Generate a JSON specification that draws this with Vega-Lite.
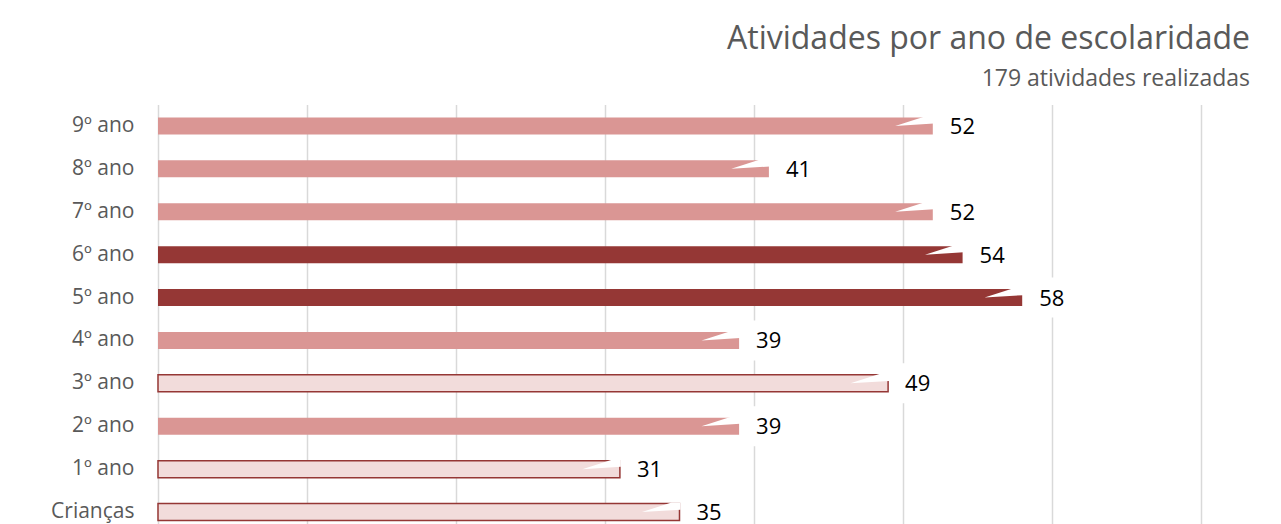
{
  "$schema": "https://vega.github.io/schema/vega-lite/v6.json",
  "autosize": {"type": "none"},
  "width": 1043,
  "height": 419.5,
  "padding": {"left": 158, "top": 104.5, "right": 80, "bottom": 0},
  "background": "white",
  "title": {
    "text": "Atividades por ano de escolaridade",
    "subtitle": "179 atividades realizadas",
    "anchor": "end",
    "frame": "group",
    "dx": 49,
    "offset": 13,
    "subtitlePadding": 12,
    "font": "Open Sans",
    "subtitleFont": "Open Sans",
    "fontSize": 32,
    "subtitleFontSize": 23,
    "fontWeight": "normal",
    "color": "#595959",
    "subtitleColor": "#595959"
  },
  "data": {
    "values": [
      {"ano": "9º ano", "atividades": 52},
      {"ano": "8º ano", "atividades": 41},
      {"ano": "7º ano", "atividades": 52},
      {"ano": "6º ano", "atividades": 54},
      {"ano": "5º ano", "atividades": 58},
      {"ano": "4º ano", "atividades": 39},
      {"ano": "3º ano", "atividades": 49},
      {"ano": "2º ano", "atividades": 39},
      {"ano": "1º ano", "atividades": 31},
      {"ano": "Crianças", "atividades": 35}
    ]
  },
  "encoding": {
    "y": {
      "field": "ano",
      "type": "nominal",
      "sort": null,
      "scale": {"range": [0, 429], "paddingInner": 0, "paddingOuter": 0},
      "axis": {
        "title": null,
        "domain": false,
        "ticks": false,
        "grid": false,
        "labelFont": "Open Sans",
        "labelFontSize": 21,
        "labelColor": "#595959",
        "labelPadding": 24
      }
    },
    "x": {
      "field": "atividades",
      "type": "quantitative",
      "scale": {"domain": [0, 70], "nice": false},
      "axis": {
        "orient": "top",
        "title": null,
        "values": [0, 10, 20, 30, 40, 50, 60, 70],
        "labels": false,
        "ticks": false,
        "domain": false,
        "grid": true,
        "gridColor": "#d9d9d9",
        "gridWidth": 1.5
      }
    }
  },
  "layer": [
    {
      "mark": {"type": "bar", "size": 17, "strokeWidth": 1.5},
      "encoding": {
        "color": {
          "condition": [
            {"test": "datum.ano === '5º ano' || datum.ano === '6º ano'", "value": "#953735"},
            {"test": "datum.ano === '3º ano' || datum.ano === '1º ano' || datum.ano === 'Crianças'", "value": "#f2dcdb"}
          ],
          "value": "#da9694"
        },
        "stroke": {
          "condition": {"test": "datum.ano === '3º ano' || datum.ano === '1º ano' || datum.ano === 'Crianças'", "value": "#953735"},
          "value": null
        }
      }
    },
    {
      "mark": {
        "type": "point",
        "shape": "M-0.94,0L-0.2,-0.2375L0.025,-0.2375L0.025,-0.06Z",
        "size": 6400,
        "filled": true,
        "color": "white",
        "opacity": 1,
        "strokeWidth": 0
      }
    },
    {
      "mark": {
        "type": "point",
        "shape": "M-1.1,-1L1.1,-1L1.1,1L-1.1,1Z",
        "size": 1600,
        "filled": true,
        "color": "white",
        "opacity": 1,
        "strokeWidth": 0,
        "xOffset": 28
      }
    },
    {
      "mark": {
        "type": "text",
        "align": "left",
        "baseline": "middle",
        "dx": 17,
        "dy": 1,
        "font": "Open Sans",
        "fontSize": 22,
        "color": "black"
      },
      "encoding": {"text": {"field": "atividades", "type": "quantitative"}}
    }
  ],
  "config": {"view": {"stroke": null}}
}
